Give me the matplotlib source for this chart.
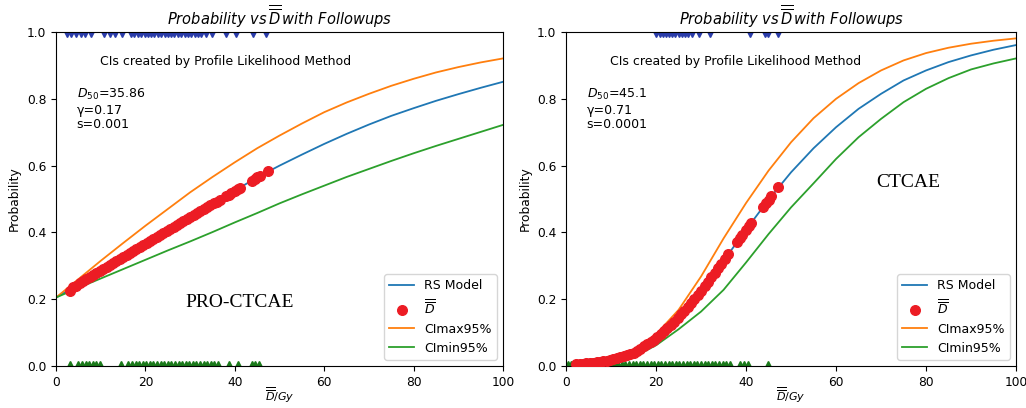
import numpy as np
import matplotlib
matplotlib.use("Agg")
import matplotlib.pyplot as plt

# dose grid for the read-off curves (Gy)
dose_grid = [0, 5, 10, 15, 20, 25, 30, 35, 40, 45, 50, 55, 60, 65, 70, 75, 80, 85, 90, 95, 100]

# ---- PRO-CTCAE (left) ----
pro_rs = [0.205, 0.245, 0.285, 0.327, 0.368, 0.41, 0.45, 0.488, 0.525, 0.565, 0.6,
          0.633, 0.665, 0.695, 0.723, 0.749, 0.772, 0.794, 0.814, 0.833, 0.851]
pro_cimax = [0.205, 0.26, 0.315, 0.368, 0.42, 0.47, 0.52, 0.566, 0.61, 0.652, 0.69,
             0.726, 0.76, 0.789, 0.815, 0.839, 0.86, 0.879, 0.895, 0.909, 0.921]
pro_cimin = [0.205, 0.234, 0.262, 0.29, 0.318, 0.346, 0.373, 0.401, 0.43, 0.458, 0.487,
             0.514, 0.54, 0.566, 0.59, 0.614, 0.637, 0.659, 0.68, 0.701, 0.722]
pro_dose = [3.1, 3.8, 4.5, 5.3, 6.0, 6.8, 7.5, 8.3, 9.0, 9.8, 10.5, 11.3, 12.0, 12.8, 13.5,
            14.3, 15.0, 15.8, 16.5, 17.3, 18.0, 18.8, 19.5, 20.3, 21.0, 21.8, 22.5, 23.3,
            24.0, 24.8, 25.5, 26.3, 27.0, 27.8, 28.5, 29.3, 30.0, 30.8, 31.5, 32.3, 33.0,
            33.8, 34.5, 35.3, 36.0, 36.7, 38.0, 38.6, 39.2, 40.0, 40.6, 41.1, 43.8, 44.4,
            45.0, 45.6, 47.4]
pro_prob = [0.226, 0.236, 0.241, 0.248, 0.254, 0.260, 0.266, 0.272, 0.278, 0.284, 0.290,
            0.296, 0.302, 0.309, 0.314, 0.321, 0.327, 0.333, 0.339, 0.345, 0.351, 0.357,
            0.363, 0.369, 0.375, 0.381, 0.387, 0.393, 0.399, 0.405, 0.411, 0.417, 0.423,
            0.429, 0.434, 0.440, 0.446, 0.452, 0.458, 0.464, 0.469, 0.475, 0.481, 0.487,
            0.492, 0.497, 0.508, 0.513, 0.518, 0.524, 0.529, 0.533, 0.555, 0.560, 0.565,
            0.569, 0.583]
pro_events = [2.5, 3.3, 4.5, 5.5, 6.5, 7.8, 10.8, 12.0, 13.2, 14.8, 16.8, 17.5, 18.3, 19.0,
              19.8, 20.5, 21.3, 22.0, 22.8, 23.5, 24.3, 25.0, 25.8, 26.5, 27.3, 28.0, 28.8,
              29.5, 30.3, 31.0, 31.8, 32.5, 33.5, 34.8, 38.0, 40.3, 44.0, 47.0]
pro_nonevents = [3.1, 5.0, 5.8, 6.6, 7.4, 8.2, 9.0, 9.8, 14.5, 16.2, 17.0, 17.8, 18.6, 19.4,
                 20.2, 21.0, 21.8, 22.6, 23.4, 24.2, 25.0, 25.8, 26.6, 27.4, 28.2, 29.0,
                 29.8, 30.6, 31.4, 32.2, 33.0, 33.8, 34.6, 35.4, 36.3, 38.8, 40.6, 43.8,
                 44.6, 45.3]

# ---- CTCAE (right) ----
ct_rs = [0.004, 0.008, 0.018, 0.04, 0.083, 0.15, 0.225, 0.315, 0.408, 0.498, 0.58,
         0.652, 0.715, 0.77, 0.815, 0.855, 0.885, 0.91, 0.93, 0.947, 0.961]
ct_cimax = [0.001, 0.004, 0.014, 0.048, 0.095, 0.168, 0.268, 0.382, 0.488, 0.585, 0.67,
            0.742, 0.8, 0.847, 0.885, 0.915, 0.937, 0.953, 0.965, 0.974, 0.981]
ct_cimin = [0.001, 0.004, 0.012, 0.027, 0.062, 0.11, 0.163, 0.228, 0.31, 0.395, 0.475,
            0.547, 0.62, 0.685, 0.74, 0.79, 0.83, 0.862, 0.888, 0.906, 0.921]
ct_dose = [2.3, 3.0, 3.8, 4.5, 5.3, 6.0, 6.8, 7.5, 8.3, 9.0, 9.8, 10.5, 11.3, 12.0, 12.8,
           13.5, 14.3, 15.0, 15.8, 16.5, 17.3, 18.0, 18.8, 19.5, 20.3, 21.0, 21.8, 22.5,
           23.3, 24.0, 24.8, 25.5, 26.3, 27.0, 27.8, 28.5, 29.3, 30.0, 30.8, 31.5, 32.3,
           33.0, 33.8, 34.5, 35.3, 36.0, 38.0, 38.6, 39.2, 40.0, 40.6, 41.1, 43.8, 44.4,
           45.0, 45.6, 47.2]
ct_prob = [0.006, 0.006, 0.007, 0.008, 0.009, 0.010, 0.011, 0.013, 0.014, 0.016, 0.018,
           0.020, 0.023, 0.026, 0.029, 0.033, 0.037, 0.040, 0.046, 0.052, 0.059, 0.065,
           0.072, 0.078, 0.087, 0.095, 0.104, 0.114, 0.123, 0.133, 0.144, 0.155, 0.166,
           0.177, 0.188, 0.200, 0.213, 0.225, 0.239, 0.252, 0.266, 0.279, 0.293, 0.306,
           0.321, 0.334, 0.371, 0.382, 0.393, 0.408, 0.419, 0.428, 0.476, 0.487, 0.498,
           0.509, 0.537]
ct_events = [20.1, 20.8, 21.5, 22.2, 22.9, 23.6, 24.3, 25.0, 25.8, 26.5, 27.2, 28.0, 29.5,
             31.9, 40.8, 44.2, 44.8, 47.1]
ct_nonevents = [0.4, 1.2, 2.0, 2.8, 3.6, 4.4, 5.2, 6.0, 6.8, 7.6, 8.4, 9.2, 10.0, 10.8,
                11.6, 12.4, 13.2, 14.0, 14.8, 15.6, 16.4, 17.2, 18.0, 18.8, 19.6, 20.4,
                21.2, 22.0, 22.8, 23.6, 24.4, 25.2, 26.0, 26.8, 27.6, 28.4, 29.2, 30.0,
                30.8, 31.6, 32.4, 33.2, 34.0, 34.8, 35.6, 36.4, 38.6, 39.5, 40.4, 44.9]

panels = [
    dict(rs=pro_rs, cimax=pro_cimax, cimin=pro_cimin, dose=pro_dose, prob=pro_prob,
         ev=pro_events, nev=pro_nonevents, params="$D_{50}$=35.86\nγ=0.17\ns=0.001",
         name="PRO-CTCAE", name_xy=(41, 0.19)),
    dict(rs=ct_rs, cimax=ct_cimax, cimin=ct_cimin, dose=ct_dose, prob=ct_prob,
         ev=ct_events, nev=ct_nonevents, params="$D_{50}$=45.1\nγ=0.71\ns=0.0001",
         name="CTCAE", name_xy=(76, 0.55)),
]

fig = plt.figure(figsize=(10.26, 4.08), dpi=100)
axes = [fig.add_axes([0.0546, 0.1029, 0.4357, 0.8186]),
        fig.add_axes([0.5517, 0.1029, 0.4386, 0.8186])]

dbar = r"$\overline{\overline{D}}$"
for ax, p in zip(axes, panels):
    ax.plot(dose_grid, p["rs"], color="C0", lw=1.3, label="RS Model")
    ax.scatter(p["dose"], p["prob"], s=48, color="#ec1c24", zorder=3, label=dbar)
    ax.plot(dose_grid, p["cimax"], color="C1", lw=1.3, label="CImax95%")
    ax.plot(dose_grid, p["cimin"], color="C2", lw=1.3, label="CImin95%")
    ax.plot(p["ev"], np.ones(len(p["ev"])), "v", color="#2a3caa", ms=7, clip_on=True)
    ax.plot(p["nev"], np.zeros(len(p["nev"])), "^", color="#1a7a1a", ms=7, clip_on=True)

    ax.set_xlim(0, 100)
    ax.set_ylim(0, 1)
    ax.set_xticks([0, 20, 40, 60, 80, 100])
    ax.tick_params(labelsize=8.8)
    ax.set_title(r"$Probability\ vs\,\overline{\overline{D}}\,with\ Followups$",
                 fontsize=10.5, pad=5)
    ax.set_xlabel(r"$\overline{\overline{D}}/Gy$", fontsize=8, labelpad=-2)
    ax.set_ylabel("Probability", fontsize=8.8)
    ax.text(9.8, 0.911, "CIs created by Profile Likelihood Method", fontsize=9, va="center")
    ax.text(4.6, 0.835, p["params"], fontsize=9, va="top", linespacing=1.15)
    ax.text(p["name_xy"][0], p["name_xy"][1], p["name"], fontsize=14,
            family="Liberation Serif", ha="center", va="center")
    ax.legend(loc="lower right", fontsize=9)

fig.savefig("out.png", dpi=100)
